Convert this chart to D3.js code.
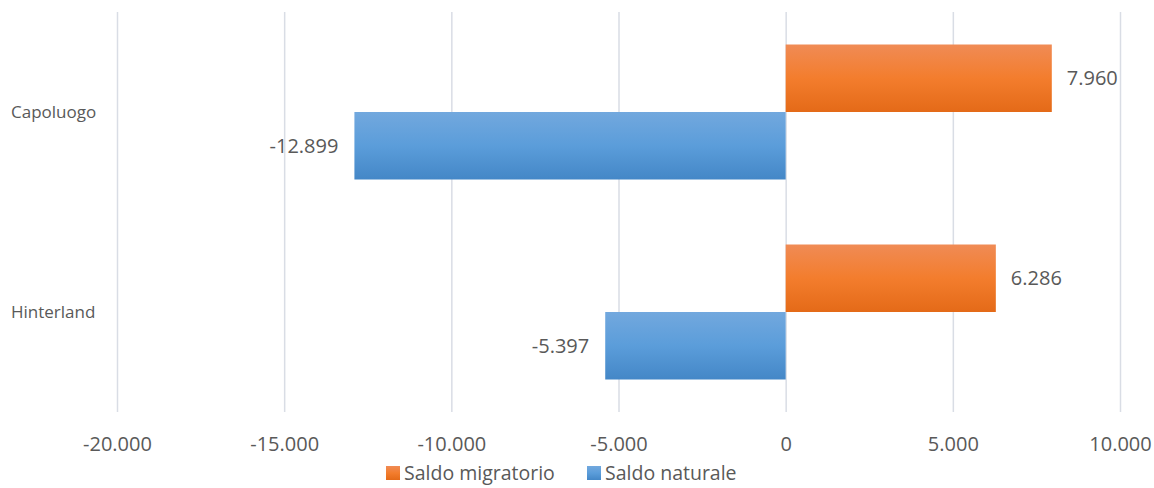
<!DOCTYPE html>
<html><head><meta charset="utf-8">
<script src="https://cdn.jsdelivr.net/npm/d3@7"></script>
<style>body{margin:0;background:#fff;} text{font-family:"Open Sans",sans-serif;fill:#595959;}</style>
</head><body>
<svg id="c" width="1154" height="488"></svg>
<script>
const categories = ["Capoluogo", "Hinterland"];
const seriesNames = ["Saldo migratorio", "Saldo naturale"];
const saldoMigratorio = [7960, 6286];
const saldoNaturale = [-12899, -5397];
const tickValues = [-20000, -15000, -10000, -5000, 0, 5000, 10000];

const svg = d3.select("#c");
const loc = d3.formatLocale({decimal: ",", thousands: ".", grouping: [3], currency: ["", "€"], minus: "-"});
const fmt = loc.format(",d");

const x = d3.scaleLinear().domain([-20000, 10000]).range([117, 1120]);
const y0 = d3.scaleBand().domain(categories).range([12, 412]).paddingInner(0.325).paddingOuter(0.1625);
const y1 = d3.scaleBand().domain(seriesNames).range([0, y0.bandwidth()]);

const defs = svg.append("defs");
function grad(id, stops) {
  const g = defs.append("linearGradient").attr("id", id).attr("x1", 0).attr("y1", 0).attr("x2", 0).attr("y2", 1);
  stops.forEach((c, i) => g.append("stop").attr("offset", (i / (stops.length - 1))).attr("stop-color", c));
}
grad("gOrange", ["#F08B55", "#F37D2D", "#E46A18"]);
grad("gBlue", ["#72A8DE", "#5B9DDA", "#4487C7"]);
const fills = {"Saldo migratorio": "url(#gOrange)", "Saldo naturale": "url(#gBlue)"};

// gridlines
svg.append("g").selectAll("line").data(tickValues).join("line")
  .attr("x1", d => x(d) + 0.5).attr("x2", d => x(d) + 0.5)
  .attr("y1", 12).attr("y2", 412)
  .attr("stroke", "#D9DDE5").attr("stroke-width", 1.5);

// x axis labels
const xAxis = d3.axisBottom(x).tickValues(tickValues).tickFormat(d => fmt(d)).tickSize(0).tickPadding(0);
const gx = svg.append("g").attr("transform", "translate(0,444)").call(xAxis);
gx.select(".domain").remove();
gx.selectAll("text").attr("font-size", 20).attr("dy", "0.35em").style("font-family", "'Open Sans',sans-serif").attr("fill", "#595959");

// y axis labels
const yAxis = d3.axisLeft(y0).tickSize(0).tickPadding(0);
const gy = svg.append("g").call(yAxis);
gy.select(".domain").remove();
gy.selectAll("text").attr("font-size", 17).attr("text-anchor", "start").attr("x", 11).attr("dy", "0.35em")
  .style("font-family", "'Open Sans',sans-serif").attr("fill", "#595959");

// data
const rows = categories.map((c, i) => ({cat: c, values: [
  {s: seriesNames[0], v: saldoMigratorio[i]},
  {s: seriesNames[1], v: saldoNaturale[i]}
]}));

const groups = svg.append("g").selectAll("g").data(rows).join("g")
  .attr("transform", d => `translate(0,${y0(d.cat)})`);
groups.selectAll("rect").data(d => d.values).join("rect")
  .attr("x", d => Math.min(x(0), x(d.v)))
  .attr("width", d => Math.abs(x(d.v) - x(0)))
  .attr("y", d => y1(d.s))
  .attr("height", y1.bandwidth())
  .attr("fill", d => fills[d.s]);
groups.selectAll("text").data(d => d.values).join("text")
  .attr("x", d => d.v >= 0 ? x(d.v) + 15 : x(d.v) - 16)
  .attr("text-anchor", d => d.v >= 0 ? "start" : "end")
  .attr("y", d => y1(d.s) + y1.bandwidth() / 2)
  .attr("dy", "0.35em")
  .attr("font-size", 20)
  .text(d => fmt(d.v));

// legend
const legendX = [386, 587];
const lg = svg.append("g").selectAll("g").data(seriesNames).join("g")
  .attr("transform", (d, i) => `translate(${legendX[i]},466)`);
lg.append("rect").attr("width", 14).attr("height", 14).attr("fill", d => fills[d]);
lg.append("text").attr("x", 18).attr("y", 7).attr("dy", "0.35em").attr("font-size", 19.5).text(d => d);
</script>
</body></html>
